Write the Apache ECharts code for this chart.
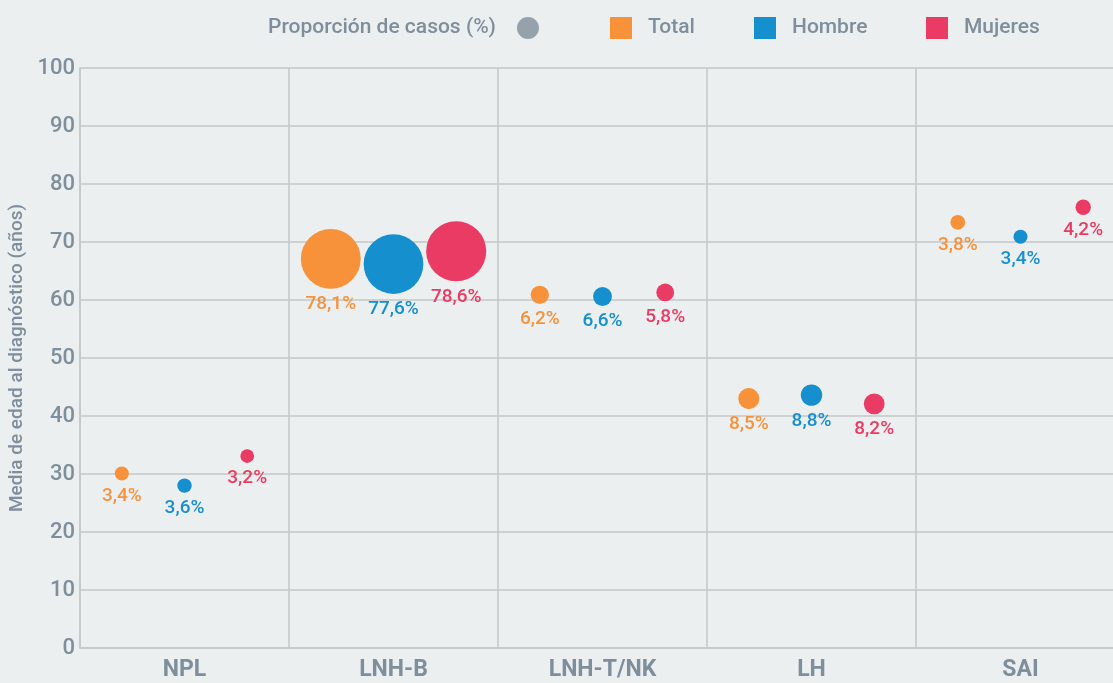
<!DOCTYPE html>
<html>
<head>
<meta charset="utf-8">
<script src="https://cdn.jsdelivr.net/npm/echarts@6/dist/echarts.min.js"></script>
<style>
  html, body { margin: 0; padding: 0; background: #ebeff0; }
  #chart { width: 1113px; height: 683px; }
</style>
</head>
<body>
<div id="chart"></div>
<script>
// categorías y valores
const categories = ['NPL', 'LNH-B', 'LNH-T/NK', 'LH', 'SAI'];
const yTicks = [0, 10, 20, 30, 40, 50, 60, 70, 80, 90, 100];

// edad media al diagnóstico (años)
const totalAge = [30.1, 67.1, 60.9, 43.0, 73.4];
const hombreAge = [28.0, 66.2, 60.6, 43.6, 70.9];
const mujeresAge = [33.1, 68.4, 61.3, 42.1, 76.0];

// proporción de casos (%)
const totalPct = [3.4, 78.1, 6.2, 8.5, 3.8];
const hombrePct = [3.6, 77.6, 6.6, 8.8, 3.4];
const mujeresPct = [3.2, 78.6, 5.8, 8.2, 4.2];

const GREY = '#7f8e9b';
const FONT = 'Roboto';

// desplazamiento horizontal de cada grupo dentro de la categoría
const groups = [
  { name: 'Total', color: '#f7923a', offset: -0.3, age: totalAge, pct: totalPct },
  { name: 'Hombre', color: '#168fce', offset: 0, age: hombreAge, pct: hombrePct },
  { name: 'Mujeres', color: '#e93b64', offset: 0.3, age: mujeresAge, pct: mujeresPct }
];

const fmt = (p) => p.toFixed(1).replace('.', ',') + '%';

const series = [
  {
    name: 'Proporción de casos (%)',
    type: 'scatter',
    xAxisIndex: 1,
    itemStyle: { color: GREY },
    data: []
  }
].concat(groups.map((g) => ({
  name: g.name,
  type: 'scatter',
  xAxisIndex: 1,
  itemStyle: { color: g.color, opacity: 1 },
  // área del círculo ~ proporción de casos
  symbolSize: (val) => 2 + 6.55 * Math.sqrt(val[2]),
  label: {
    show: true,
    position: 'bottom',
    distance: 6,
    color: g.color,
    fontFamily: FONT,
    fontSize: 19,
    fontWeight: 500,
    formatter: (p) => fmt(p.value[2])
  },
  emphasis: { disabled: true },
  data: categories.map((c, i) => [i + g.offset, g.age[i], g.pct[i]])
})));

// posiciones de la leyenda
const legendLeft = { Total: 605, Hombre: 749, Mujeres: 921 };
const legendText = { color: GREY, fontSize: 21, fontWeight: 500, fontFamily: FONT };

const option = {
  backgroundColor: '#ebeff0',
  animation: false,
  textStyle: { fontFamily: FONT },
  legend: [
    {
      data: ['Proporción de casos (%)'],
      left: 263,
      top: 12,
      align: 'right',
      icon: 'circle',
      itemWidth: 22,
      itemHeight: 22,
      selectedMode: false,
      textStyle: Object.assign({}, legendText, { padding: [0, 16, 0, 0] })
    }
  ].concat(groups.map((g) => ({
    data: [g.name],
    left: legendLeft[g.name],
    top: 12,
    icon: 'rect',
    itemWidth: 22,
    itemHeight: 22,
    selectedMode: false,
    textStyle: Object.assign({}, legendText, { padding: [0, 0, 0, 11] })
  }))),
  grid: {
    left: 80,
    right: -12,
    top: 68,
    bottom: 35,
    outerBoundsMode: 'none',
    containLabel: false
  },
  xAxis: [
    {
      type: 'category',
      data: categories,
      boundaryGap: true,
      axisLine: { show: true, lineStyle: { color: '#c4c7c8', width: 1.5 } },
      axisTick: { show: false },
      splitLine: { show: true, lineStyle: { color: '#c4c7c8', width: 1.5 } },
      axisLabel: {
        color: GREY,
        fontSize: 23,
        fontWeight: 'bold',
        fontFamily: FONT,
        margin: 11
      }
    },
    {
      type: 'value',
      min: -0.5,
      max: 4.5,
      show: false
    }
  ],
  yAxis: {
    type: 'value',
    min: yTicks[0],
    max: yTicks[yTicks.length - 1],
    interval: 10,
    name: 'Media de edad al diagnóstico (años)',
    nameLocation: 'middle',
    nameGap: 50,
    nameTextStyle: { color: GREY, fontSize: 19, fontWeight: 500, fontFamily: FONT },
    axisLine: { show: true, onZero: false, lineStyle: { color: '#c4c7c8', width: 1.5 } },
    axisTick: { show: false },
    splitLine: { show: true, lineStyle: { color: '#c4c7c8', width: 1.5 } },
    axisLabel: {
      color: GREY,
      fontSize: 22,
      fontWeight: 500,
      fontFamily: FONT,
      margin: 5
    }
  },
  series: series
};

const chart = echarts.init(document.getElementById('chart'));
chart.setOption(option);
</script>
</body>
</html>
